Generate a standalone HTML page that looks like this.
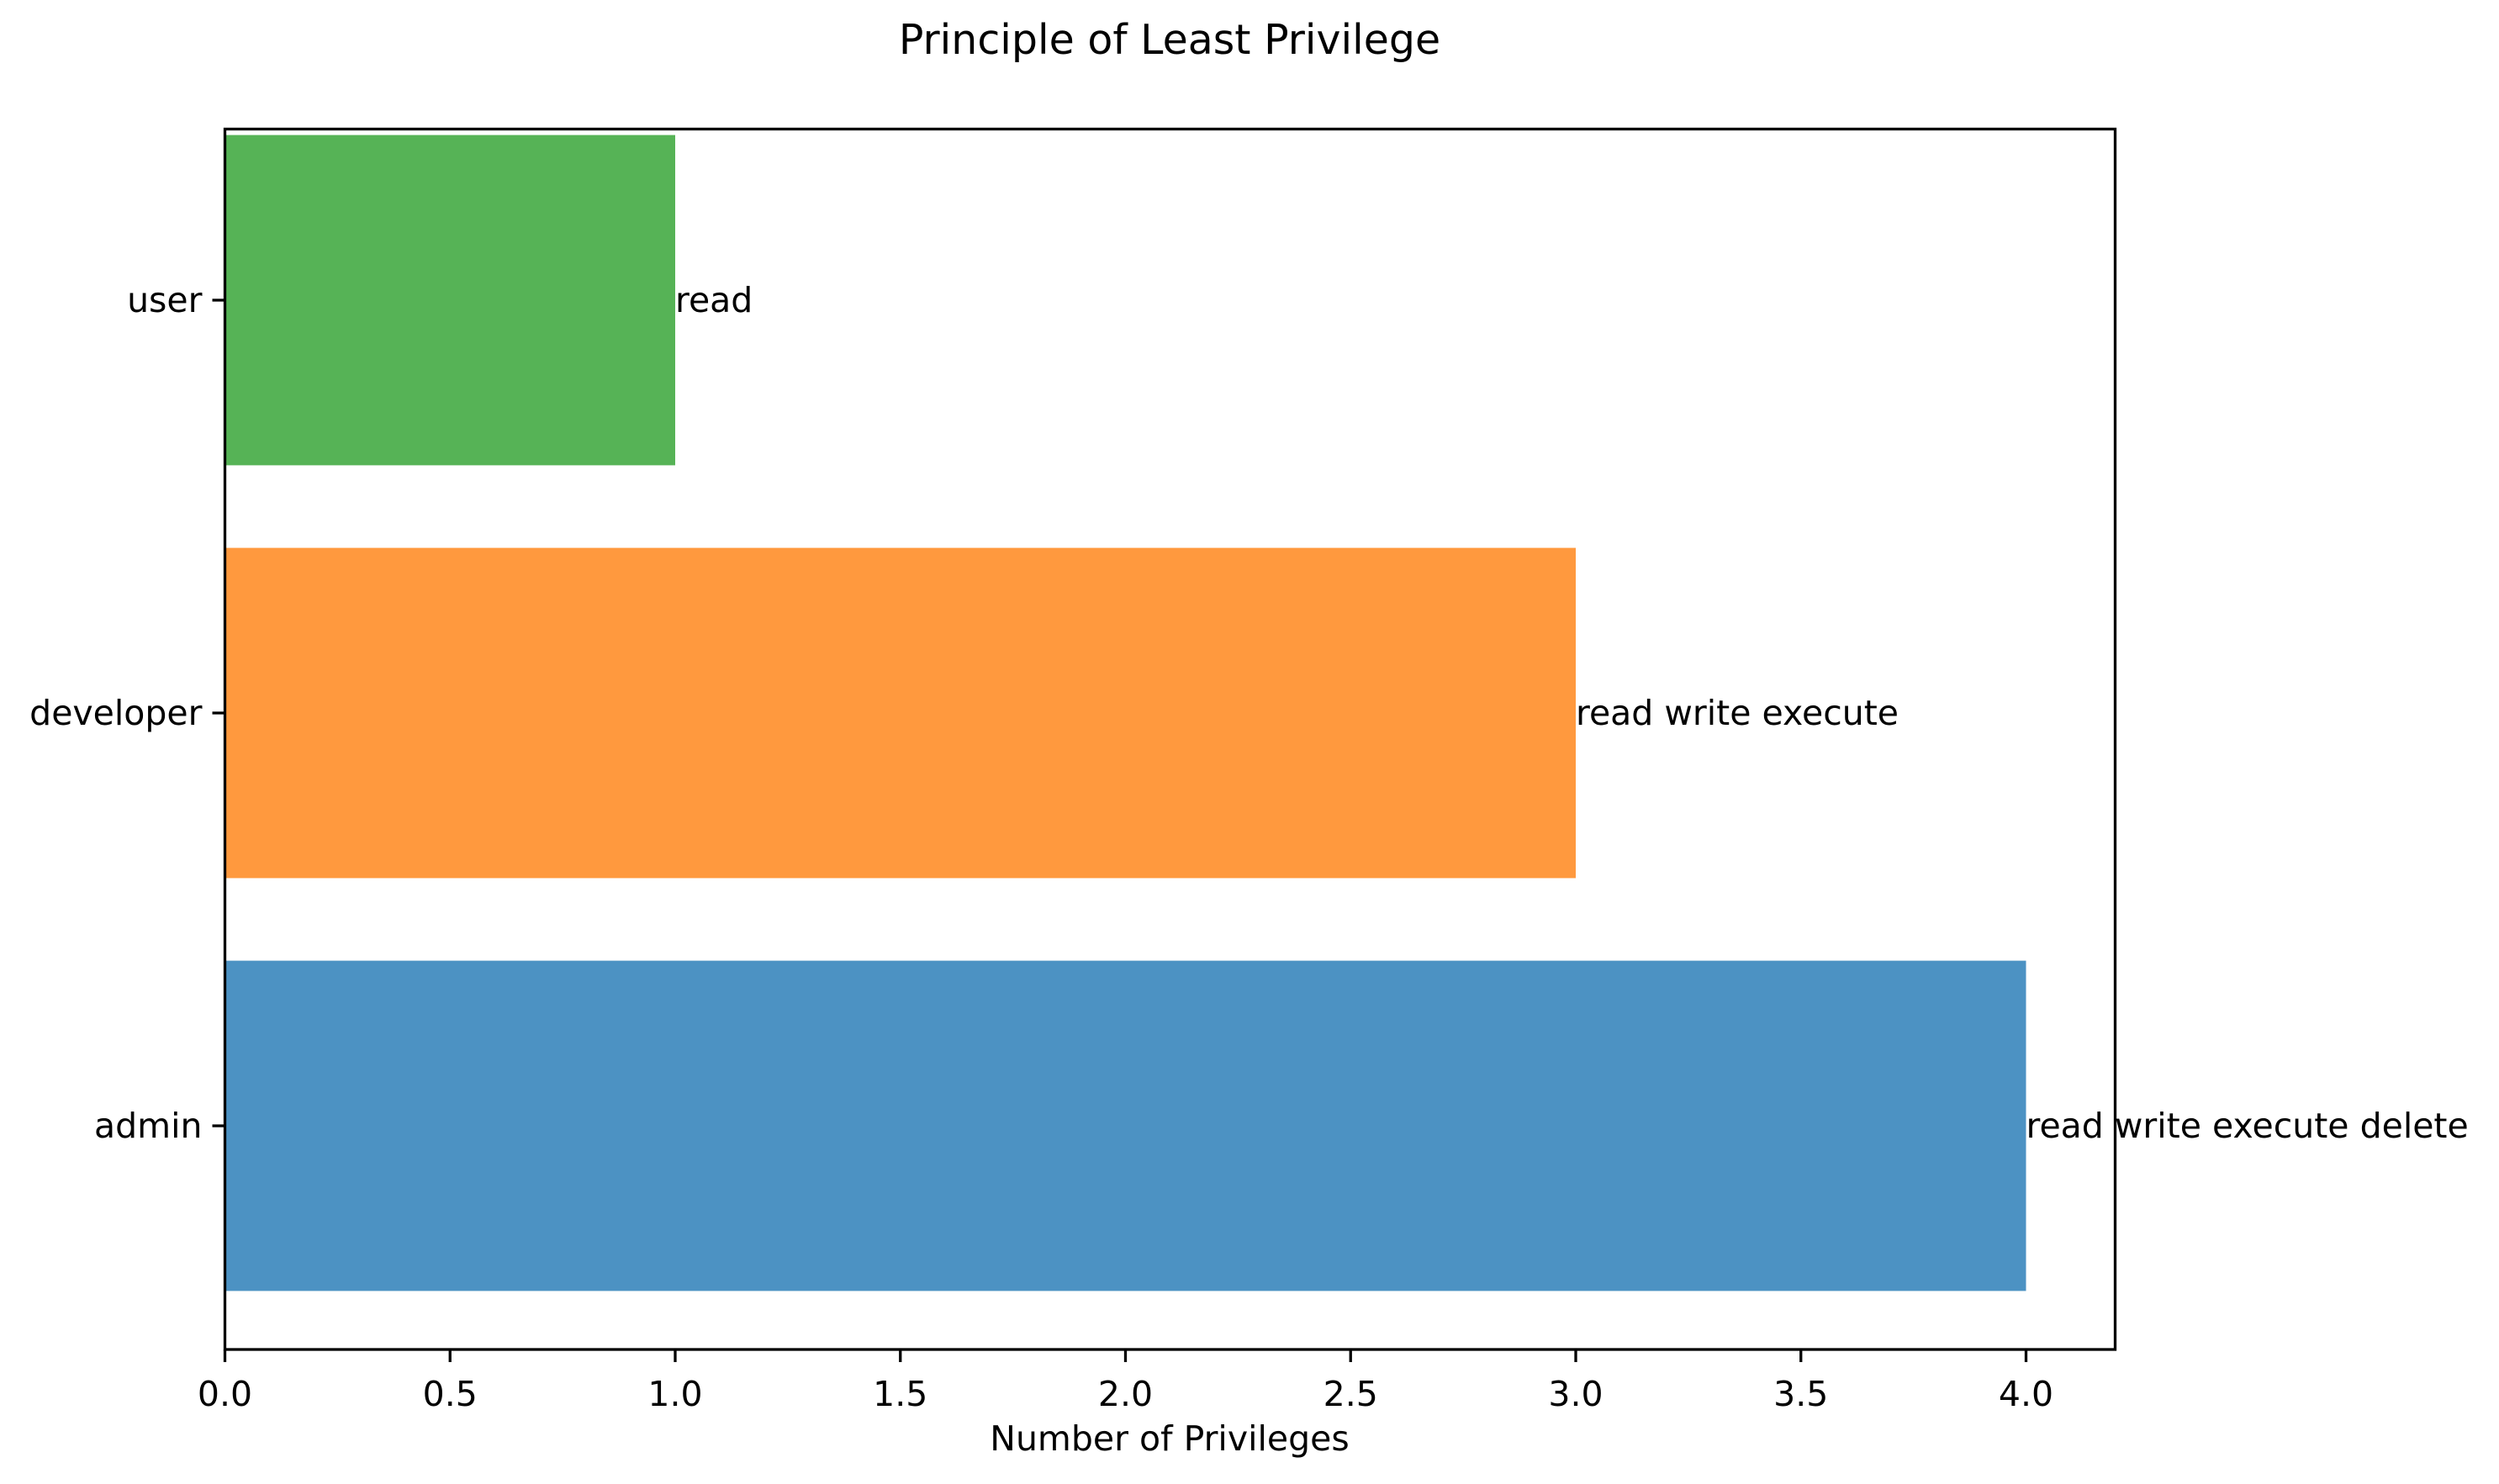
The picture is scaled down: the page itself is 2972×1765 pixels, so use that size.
<!DOCTYPE html>
<html><head><meta charset="utf-8"><style>
html,body{margin:0;padding:0;background:#fff}
svg{display:block}
text{font-family:"DejaVu Sans","Liberation Sans",sans-serif;fill:#000}
</style></head><body>
<svg id="chart" width="2972" height="1765" viewBox="0 0 2972 1765" xmlns="http://www.w3.org/2000/svg">
<rect width="2972" height="1765" fill="#fff"/>
<text x="1391" y="64" font-size="49" text-anchor="middle">Principle of Least Privilege</text>
<g id="bars"></g>
<g id="labels"></g>
<g id="xaxis"></g>
<g id="yaxis"></g>
<rect x="267.5" y="153.5" width="2248" height="1451.5" fill="none" stroke="#000" stroke-width="3.3"/>
<text x="1391" y="1725" font-size="41" text-anchor="middle">Number of Privileges</text>
</svg>
<script>
const roles = ["admin", "developer", "user"];
const counts = [4, 3, 1];
const privText = ["read write execute delete", "read write execute", "read"];
const colors = ["#4c92c3", "#ff993e", "#56b356"];
const xTicks = [0, 0.5, 1, 1.5, 2, 2.5, 3, 3.5, 4];
const xTickLabels = ["0.0","0.5","1.0","1.5","2.0","2.5","3.0","3.5","4.0"];

const NS = "http://www.w3.org/2000/svg";
const x0 = 267.5, pxPerX = 535.5;
function xs(v){ return x0 + v * pxPerX; }
const yAdmin = 1339, pxPerY = 491;
function ys(i){ return yAdmin - i * pxPerY; }
const barH = 0.8 * pxPerY;
function mk(tag, attrs){ const e = document.createElementNS(NS, tag); for (const k in attrs) e.setAttribute(k, attrs[k]); return e; }

const bars = document.getElementById('bars');
const labels = document.getElementById('labels');
const xaxis = document.getElementById('xaxis');
const yaxis = document.getElementById('yaxis');

roles.forEach((r, i) => {
  const b = mk('rect', {x: xs(0), y: ys(i) - barH/2, width: xs(counts[i]) - xs(0), height: barH, fill: colors[i]});
  
  
  bars.appendChild(b);
  const t = mk('text', {x: xs(counts[i]), y: ys(i) + 14, 'font-size': 41});
  t.textContent = privText[i];
  
  
  labels.appendChild(t);
  const tk = mk('line', {x1: x0, x2: x0 - 15, y1: ys(i), y2: ys(i), stroke: '#000', 'stroke-width': 3.3});
  
  
  yaxis.appendChild(tk);
  const tl = mk('text', {x: x0 - 27, y: ys(i) + 14, 'font-size': 41, 'text-anchor': 'end'});
  tl.textContent = r;
  
  
  yaxis.appendChild(tl);
});

xTicks.forEach((v, i) => {
  const tk = mk('line', {x1: xs(v), x2: xs(v), y1: 1605, y2: 1620, stroke: '#000', 'stroke-width': 3.3});
  
  
  xaxis.appendChild(tk);
  const tl = mk('text', {x: xs(v), y: 1672, 'font-size': 41, 'text-anchor': 'middle'});
  tl.textContent = xTickLabels[i];
  
  
  xaxis.appendChild(tl);
});
</script>
</body></html>
